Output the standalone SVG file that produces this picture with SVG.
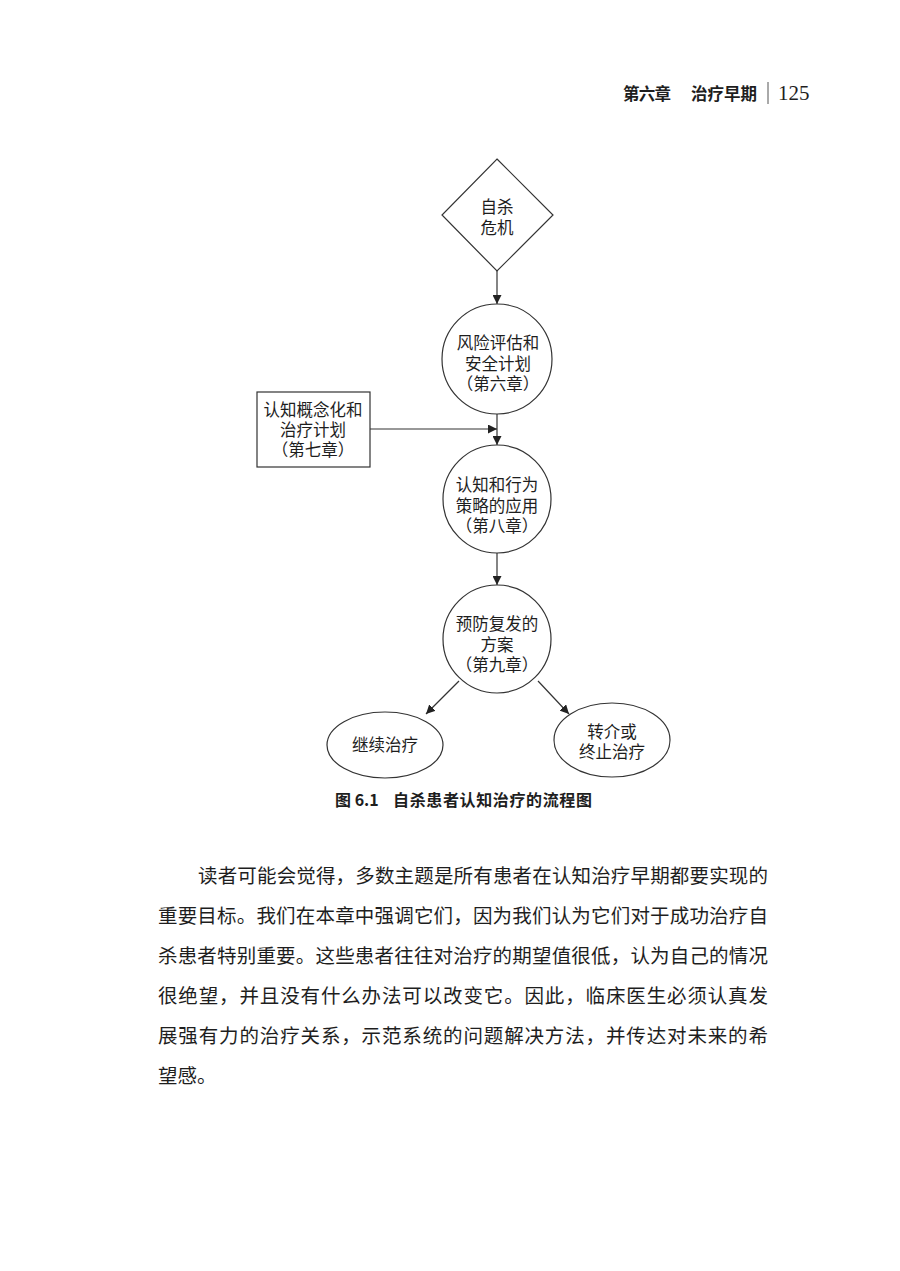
<svg xmlns="http://www.w3.org/2000/svg" width="900" height="1271" viewBox="0 0 900 1271">
<style>
.cjk{font-family:"Noto Sans CJK SC","Noto Sans",sans-serif;fill:#1e1e1e}
.n{font-size:16.5px;text-anchor:middle}
.shape{fill:#fff;stroke:#333;stroke-width:1.2}
.edge{fill:none;stroke:#333;stroke-width:1.2;marker-end:url(#ah)}
.body{font-size:19.5px}
</style>
<defs>
<marker id="ah" viewBox="0 0 10 10" refX="10" refY="5" markerWidth="9" markerHeight="9" markerUnits="userSpaceOnUse" orient="auto">
<path d="M0,0 L10,5 L0,10 Z" fill="#222"/>
</marker>
</defs>
<rect width="900" height="1271" fill="#fff"/>
<g id="header">
<text class="cjk" x="623" y="100" font-size="16.5" font-weight="bold" textLength="48" lengthAdjust="spacing">第六章</text>
<text class="cjk" x="691" y="100" font-size="16.5" font-weight="bold" textLength="66" lengthAdjust="spacing">治疗早期</text>
<line x1="768" y1="82" x2="768" y2="104" stroke="#555" stroke-width="1"/>
<text x="778" y="100" font-family="Liberation Serif,serif" font-size="21" fill="#1e1e1e">125</text>
</g>
<g id="connectors">
<line class="edge" x1="497" y1="271" x2="497" y2="304"/>
<line class="edge" x1="497" y1="414" x2="497" y2="445"/>
<line class="edge" x1="370" y1="429" x2="497" y2="429"/>
<line class="edge" x1="497" y1="553" x2="497" y2="585"/>
<line class="edge" x1="459" y1="681" x2="426" y2="714"/>
<line class="edge" x1="538" y1="681" x2="569" y2="714"/>
</g>
<g id="crisis">
<polygon class="shape" points="497,159 553,215 497,271 442,215"/>
<text class="cjk n"><tspan x="497" y="213">自杀</tspan><tspan x="497" y="234">危机</tspan></text>
</g>
<g id="risk">
<circle class="shape" cx="497" cy="359" r="55"/>
<text class="cjk n"><tspan x="498" y="349">风险评估和</tspan><tspan x="498" y="370">安全计划</tspan><tspan x="498" y="390">（第六章）</tspan></text>
</g>
<g id="concept">
<rect class="shape" x="257" y="392" width="113" height="75"/>
<text class="cjk n"><tspan x="313" y="416">认知概念化和</tspan><tspan x="313" y="436">治疗计划</tspan><tspan x="313" y="456">（第七章）</tspan></text>
</g>
<g id="strategy">
<circle class="shape" cx="497" cy="499" r="54"/>
<text class="cjk n"><tspan x="497" y="491">认知和行为</tspan><tspan x="497" y="512">策略的应用</tspan><tspan x="497" y="532">（第八章）</tspan></text>
</g>
<g id="relapse">
<circle class="shape" cx="497" cy="639" r="54"/>
<text class="cjk n"><tspan x="497" y="630">预防复发的</tspan><tspan x="497" y="651">方案</tspan><tspan x="497" y="671">（第九章）</tspan></text>
</g>
<g id="continue">
<ellipse class="shape" cx="385" cy="745" rx="58" ry="33"/>
<text class="cjk n" x="385" y="751">继续治疗</text>
</g>
<g id="refer">
<ellipse class="shape" cx="612" cy="740" rx="58" ry="37"/>
<text class="cjk n"><tspan x="612" y="738">转介或</tspan><tspan x="612" y="758">终止治疗</tspan></text>
</g>
<g id="caption">
<text class="cjk" x="335" y="806" font-size="16" font-weight="bold">图 6.1</text>
<text class="cjk" x="393" y="806" font-size="16" font-weight="bold" textLength="199" lengthAdjust="spacing">自杀患者认知治疗的流程图</text>
</g>
<g id="bodytext" class="cjk body">
<text x="198" y="883" textLength="570" lengthAdjust="spacing">读者可能会觉得，多数主题是所有患者在认知治疗早期都要实现的</text>
<text x="158" y="923" textLength="610" lengthAdjust="spacing">重要目标。我们在本章中强调它们，因为我们认为它们对于成功治疗自</text>
<text x="158" y="963" textLength="610" lengthAdjust="spacing">杀患者特别重要。这些患者往往对治疗的期望值很低，认为自己的情况</text>
<text x="158" y="1003" textLength="610" lengthAdjust="spacing">很绝望，并且没有什么办法可以改变它。因此，临床医生必须认真发</text>
<text x="158" y="1043" textLength="610" lengthAdjust="spacing">展强有力的治疗关系，示范系统的问题解决方法，并传达对未来的希</text>
<text x="158" y="1083">望感。</text>
</g>
</svg>
